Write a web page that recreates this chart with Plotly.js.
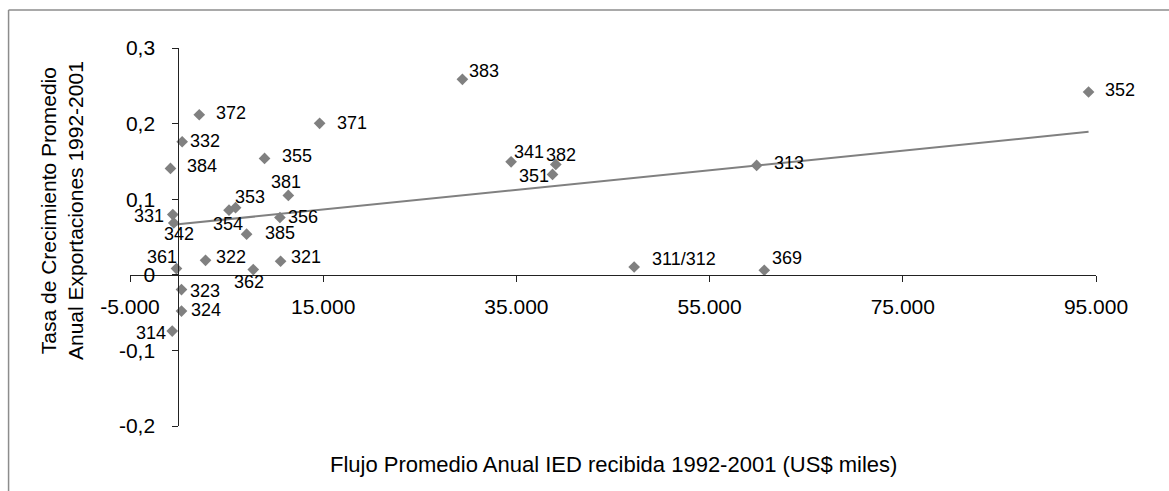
<!DOCTYPE html>
<html>
<head>
<meta charset="utf-8">
<script src="https://cdn.plot.ly/plotly-3.0.1.min.js"></script>
<style>html,body{margin:0;padding:0;background:#fff;}#chart{width:1169px;height:491px;}</style>
</head>
<body>
<div id="chart"></div>
<script>
// Data
const sectors = ['311/312','313','314','321','322','323','324','331','332','341','342','351','352','353','354','355','356','361','362','369','371','372','381','382','383','384','385'];
const fdiFlow = [47190, 59870, -630, 10590, 2820, 330, 330, -570, 400, 34450, -470, 38740, 94230, 5930, 5250, 8930, 10520, -190, 7760, 60660, 14630, 2170, 11390, 39080, 29410, -810, 7070];
const exportGrowth = [0.0103, 0.1447, -0.0745, 0.0179, 0.0192, -0.0196, -0.0480, 0.0797, 0.1760, 0.1495, 0.0686, 0.1328, 0.2418, 0.0888, 0.0855, 0.1540, 0.0758, 0.0082, 0.0069, 0.0060, 0.2003, 0.2117, 0.1050, 0.1460, 0.2586, 0.1407, 0.0537];

const xTickVals = [-5000, 15000, 35000, 55000, 75000, 95000];
const xTickText = ['-5.000', '15.000', '35.000', '55.000', '75.000', '95.000'];
const yTickVals = [-0.2, -0.1, 0, 0.1, 0.2, 0.3];
const yTickText = ['-0,2', '-0,1', '0', '0,1', '0,2', '0,3'];

// Label offsets (styling, pixels: dx right, dy down)
const labelOffsets = [[50,-8],[32,-2],[-21,2],[25,-4],[25,-3],[24,1],[25,-1],[-24,1],[23,-1],[18,-10],[5,11],[-19,2],[31,-2],[14,-11],[-1,14],[32,-2],[23,-1],[-14,-12],[-4,12],[23,-12],[32,0],[32,-2],[-2,-13],[5,-9],[22,-8],[32,-2],[33,-1]];

// Linear trend (ordinary least squares)
const n = fdiFlow.length;
const mx = fdiFlow.reduce((a,b)=>a+b,0)/n;
const my = exportGrowth.reduce((a,b)=>a+b,0)/n;
let sxy = 0, sxx = 0;
for (let i=0;i<n;i++){ sxy += (fdiFlow[i]-mx)*(exportGrowth[i]-my); sxx += (fdiFlow[i]-mx)**2; }
const slope = sxy/sxx, intercept = my - slope*mx;
const xmin = Math.min(...fdiFlow), xmax = Math.max(...fdiFlow);
const trendX = [xmin, xmax];
const trendY = trendX.map(v => intercept + slope*v);

const FONT = 'Liberation Sans, Arial, Helvetica, sans-serif';

const traces = [
  {x: fdiFlow, y: exportGrowth, type: 'scatter', mode: 'markers',
   marker: {symbol: 'diamond', size: 9, color: '#808080'}, hoverinfo: 'text', text: sectors},
  {x: trendX, y: trendY, type: 'scatter', mode: 'lines',
   line: {color: '#808080', width: 2}, hoverinfo: 'skip'}
];

const annotations = sectors.map((s,i)=>({
  x: fdiFlow[i], y: exportGrowth[i], xref: 'x', yref: 'y', text: s, showarrow: false,
  xanchor: 'center', yanchor: 'middle', xshift: labelOffsets[i][0], yshift: -labelOffsets[i][1],
  font: {family: FONT, size: 18, color: '#000'}
}));

annotations.push({
  xref: 'paper', yref: 'paper', x: 0.5, y: -0.103, xanchor: 'center', yanchor: 'middle',
  text: 'Flujo Promedio Anual IED recibida 1992-2001 (US$ miles)', showarrow: false,
  font: {family: FONT, size: 22, color: '#000'}
});
annotations.push({
  xref: 'paper', yref: 'paper', x: -0.0705, y: 0.571, xanchor: 'center', yanchor: 'middle',
  text: 'Tasa de Crecimiento Promedio<br>Anual Exportaciones 1992-2001', showarrow: false, textangle: -90,
  font: {family: FONT, size: 21, color: '#000'}
});

const layout = {
  width: 1169, height: 491,
  margin: {l: 129.5, r: 73.3, t: 48, b: 65, pad: 0},
  paper_bgcolor: '#fff', plot_bgcolor: 'rgba(0,0,0,0)',
  showlegend: false,
  font: {family: FONT, size: 21, color: '#000'},
  xaxis: {range: [-5000, 95000], anchor: 'free', position: 0.4, showline: true, linecolor: '#222', linewidth: 1,
          ticks: 'outside', ticklen: 6, tickcolor: '#222', tickvals: xTickVals, ticktext: xTickText,
          showgrid: false, zeroline: false, ticklabelstandoff: 7, tickfont: {family: FONT, size: 21, color: '#000'}},
  yaxis: {range: [-0.2, 0.3], anchor: 'free', position: 0.05, showline: true, linecolor: '#222', linewidth: 1,
          ticks: 'outside', ticklen: 6, tickcolor: '#222', tickvals: yTickVals, ticktext: yTickText,
          showgrid: false, zeroline: false, ticklabelstandoff: 13, tickfont: {family: FONT, size: 21, color: '#000'}},
  annotations: annotations,
  shapes: [
    {type: 'line', xref: 'paper', yref: 'paper', x0: -0.1257, x1: 1.1, y0: 1.1005, y1: 1.1005, line: {color: '#8c8c8c', width: 1.5}},
    {type: 'line', xref: 'paper', yref: 'paper', x0: -0.1257, x1: -0.1257, y0: 1.1005, y1: -0.2, line: {color: '#8c8c8c', width: 1.5}}
  ]
};

Plotly.newPlot('chart', traces, layout, {displayModeBar: false, staticPlot: true});
</script>
</body>
</html>
